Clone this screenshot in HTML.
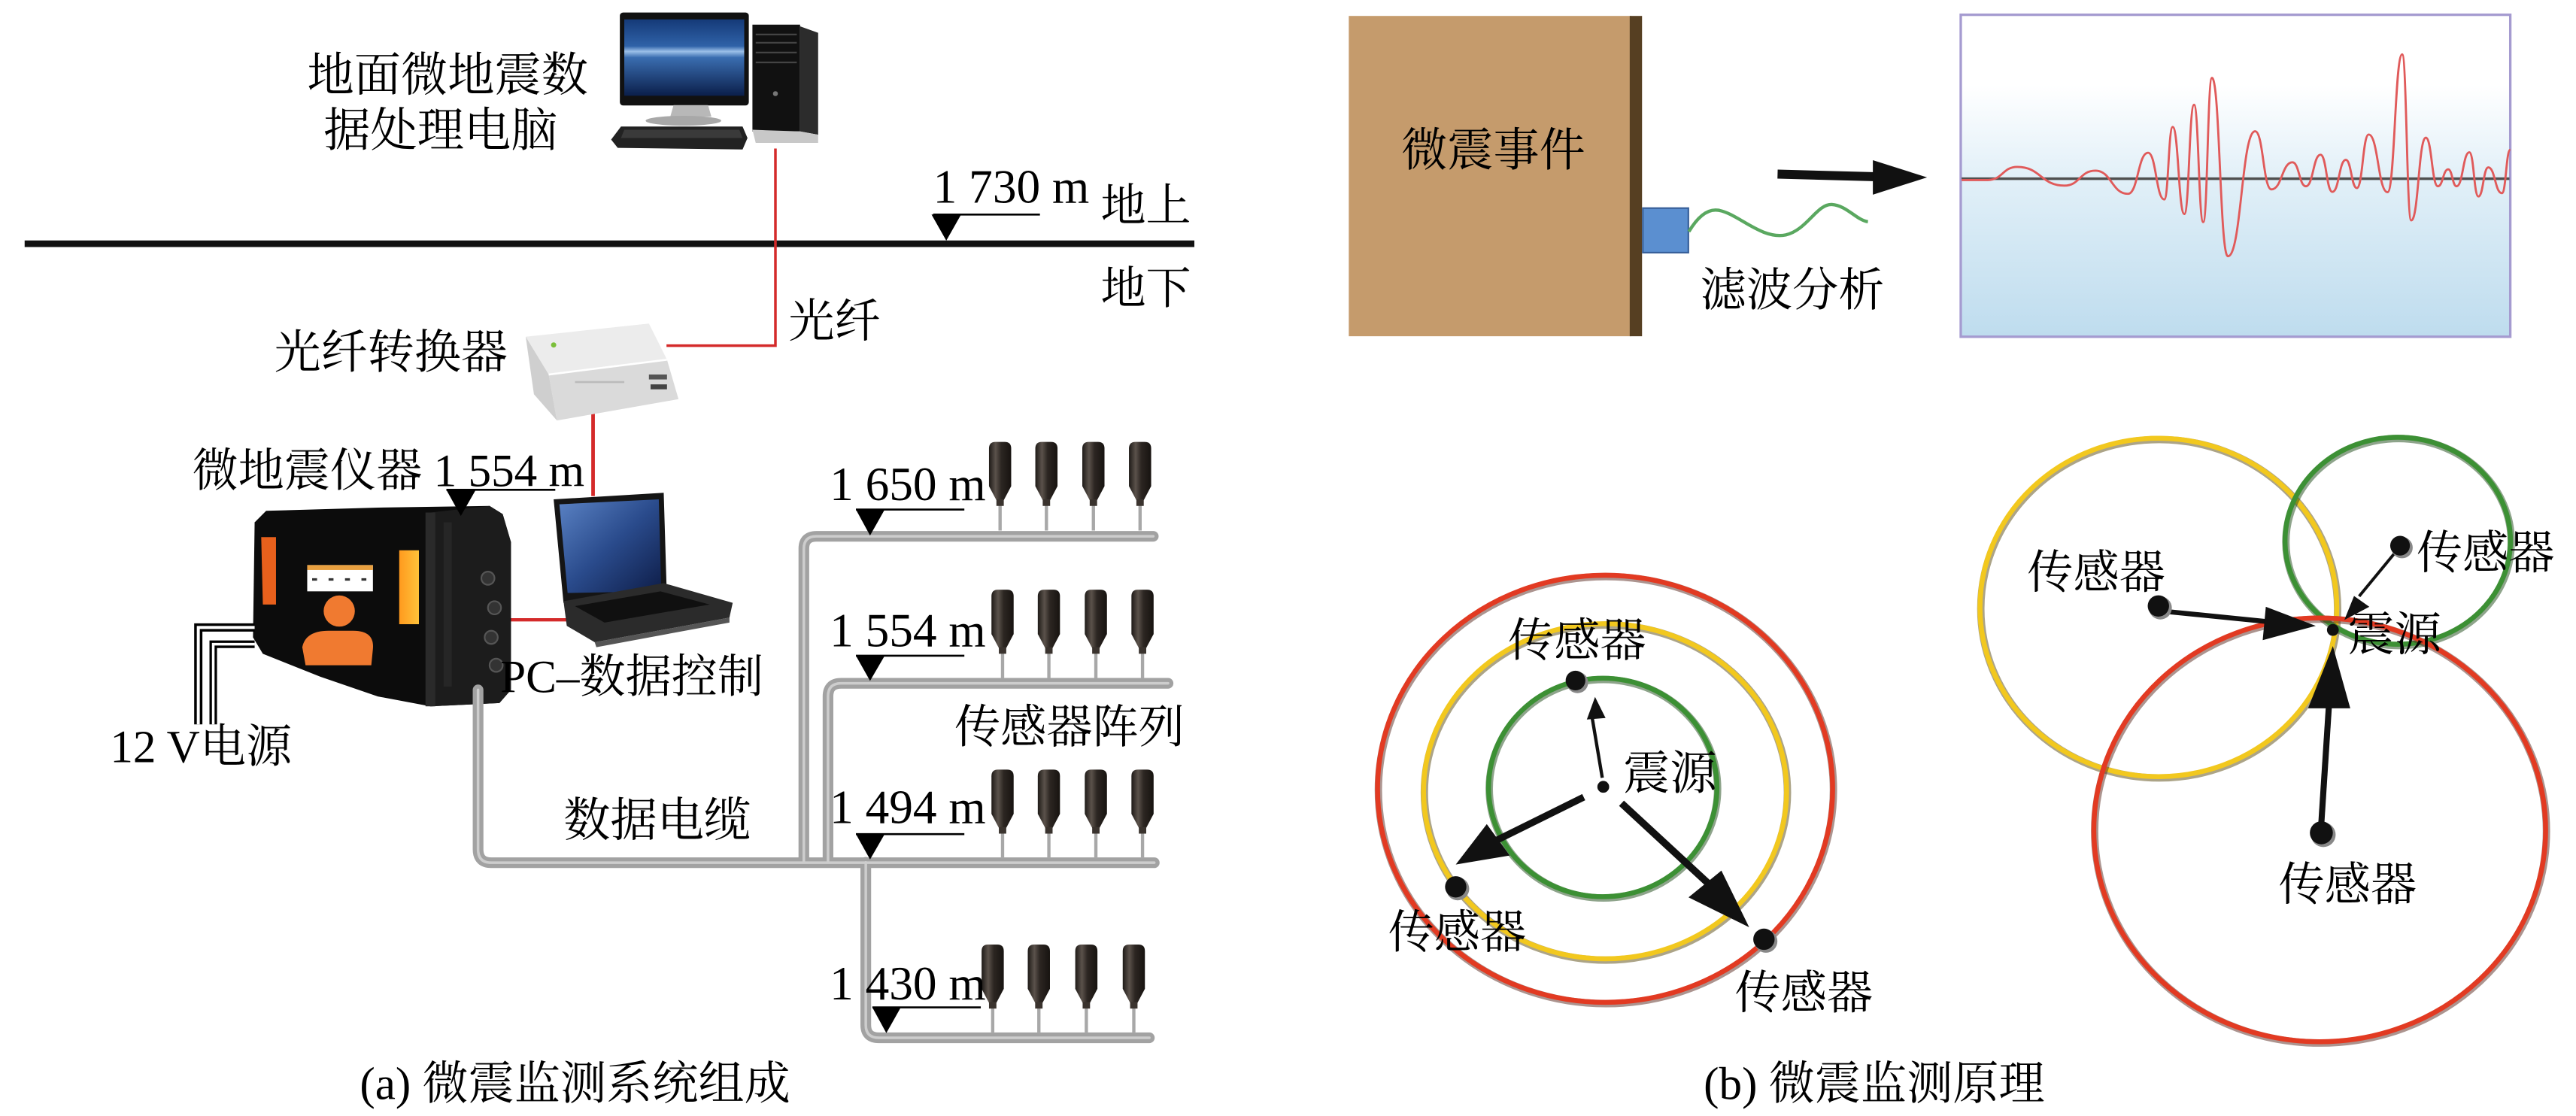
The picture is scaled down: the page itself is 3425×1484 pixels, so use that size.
<!DOCTYPE html>
<html>
<head>
<meta charset="utf-8">
<style>
html,body{margin:0;padding:0;background:#fff;overflow:hidden;}
svg{display:block;}
text{font-family:"Liberation Serif","Noto Serif CJK SC","Noto Sans CJK SC",serif;fill:#000;}
</style>
</head>
<body>
<svg xmlns="http://www.w3.org/2000/svg" width="3425" height="1484" viewBox="0 0 1568 679.4" preserveAspectRatio="none">
<defs>
  <linearGradient id="panelG" x1="0" y1="0" x2="0" y2="1">
    <stop offset="0" stop-color="#ffffff"/>
    <stop offset="0.22" stop-color="#ffffff"/>
    <stop offset="0.5" stop-color="#e2f0f8"/>
    <stop offset="1" stop-color="#bedcee"/>
  </linearGradient>
  <linearGradient id="monG" x1="0" y1="0" x2="0" y2="1">
    <stop offset="0" stop-color="#153a78"/>
    <stop offset="0.35" stop-color="#2f62a8"/>
    <stop offset="0.42" stop-color="#9cc0e8"/>
    <stop offset="0.5" stop-color="#3a6db0"/>
    <stop offset="1" stop-color="#0b1f4a"/>
  </linearGradient>
  <linearGradient id="lapG" x1="0" y1="0" x2="1" y2="1">
    <stop offset="0" stop-color="#5a82c4"/>
    <stop offset="0.5" stop-color="#2a4b8c"/>
    <stop offset="1" stop-color="#0e1d48"/>
  </linearGradient>
  <linearGradient id="sensG" x1="0" y1="0" x2="1" y2="0">
    <stop offset="0" stop-color="#1e1a17"/>
    <stop offset="0.3" stop-color="#5b524b"/>
    <stop offset="0.55" stop-color="#2c2622"/>
    <stop offset="1" stop-color="#171310"/>
  </linearGradient>
  <linearGradient id="yelG" x1="0" y1="0" x2="1" y2="0">
    <stop offset="0" stop-color="#ff9a1e"/>
    <stop offset="1" stop-color="#ffc23a"/>
  </linearGradient>
  <g id="sensor">
    <line x1="7.25" y1="38" x2="7.25" y2="54" stroke="#a8a8a8" stroke-width="2"/>
    <path d="M0.5,4 Q0.5,0 4.5,0 H10 Q14,0 14,4 V27 L9.5,35.5 H5 L0.5,27 Z" fill="url(#sensG)"/>
    <rect x="5" y="35" width="4.5" height="4" fill="#3a332e"/>
  </g>
</defs>

<!-- ================= PANEL (a) ================= -->
<!-- ground line -->
<line x1="15" y1="148.4" x2="727" y2="148.4" stroke="#111" stroke-width="4"/>

<!-- computer -->
<rect x="377.3" y="7.6" width="78.5" height="56.6" rx="2" fill="#111"/>
<rect x="380" y="11.8" width="73" height="46.5" fill="url(#monG)"/>
<polygon points="410,64 431,64 433,71 408,71" fill="#b8b8b8"/>
<ellipse cx="416" cy="73.5" rx="23" ry="3" fill="#a8a8a8"/>
<polygon points="378,77 452,77 455,84 452,91 376,90 372,85" fill="#222"/>
<polygon points="380,79 450,79 452,84 378,84" fill="#3a3a3a"/>
<rect x="458" y="15" width="29" height="65" fill="#111"/>
<polygon points="487,16 498,20 498,82 487,80" fill="#2c2c2c"/>
<polygon points="458,79 487,80 498,82 498,87 460,87" fill="#c8c8c8"/>
<line x1="460" y1="21" x2="485" y2="21" stroke="#444" stroke-width="1"/>
<line x1="460" y1="26" x2="485" y2="26" stroke="#444" stroke-width="1"/>
<line x1="460" y1="32" x2="485" y2="32" stroke="#444" stroke-width="1"/>
<line x1="460" y1="38" x2="485" y2="38" stroke="#444" stroke-width="1"/>
<circle cx="472" cy="57" r="1.5" fill="#777"/>

<!-- fiber (red) -->
<polyline points="472,90.4 472,210.4 405.7,210.4" fill="none" stroke="#d42a2a" stroke-width="1.6"/>
<line x1="361" y1="249" x2="361" y2="302" stroke="#d42a2a" stroke-width="2.2"/>
<line x1="310" y1="377.3" x2="354" y2="377.3" stroke="#d42a2a" stroke-width="2"/>

<!-- converter -->
<polygon points="320,205 395,197 406,219 334,228" fill="#ececec"/>
<polygon points="334,228 406,219 413,243 339,256" fill="#dadada"/>
<polygon points="320,205 334,228 339,256 325,240" fill="#cfcfcf"/>
<line x1="334" y1="228" x2="406" y2="219" stroke="#fff" stroke-width="1.2"/>
<circle cx="337" cy="210" r="1.6" fill="#7bbf3a"/>
<rect x="395" y="228" width="11" height="3" fill="#555"/>
<rect x="396" y="234" width="10" height="3" fill="#444"/>
<rect x="350" y="232" width="30" height="1.2" fill="#bbb"/>

<!-- instrument -->
<polygon points="155,318 162,311 230,309 298,308 306,313 311,330 311,420 304,428 262,430 230,424 195,412 160,398 154,388" fill="#0c0c0c"/>
<polygon points="262,312 298,308 306,313 311,330 311,420 304,428 262,430" fill="#1c1c1c"/>
<rect x="259" y="312" width="6" height="118" fill="#2a2a2a"/>
<rect x="270" y="318" width="5" height="100" fill="#262626"/>
<circle cx="297" cy="352" r="4" fill="#333" stroke="#555" stroke-width="1"/>
<circle cx="301" cy="370" r="4" fill="#333" stroke="#555" stroke-width="1"/>
<circle cx="299" cy="388" r="4" fill="#333" stroke="#555" stroke-width="1"/>
<circle cx="302" cy="405" r="4" fill="#333" stroke="#555" stroke-width="1"/>
<polygon points="159,327 168,327 168,368 160,368" fill="#e8601c"/>
<rect x="243" y="335" width="12" height="45" fill="url(#yelG)"/>
<rect x="187" y="344" width="40" height="16" fill="#fff"/>
<rect x="190" y="352" width="3" height="1.5" fill="#333"/>
<rect x="200" y="352" width="3" height="1.5" fill="#333"/>
<rect x="210" y="352" width="3" height="1.5" fill="#333"/>
<rect x="220" y="352" width="3" height="1.5" fill="#333"/>
<rect x="187" y="344" width="40" height="3" fill="#e9a040"/>
<circle cx="206.5" cy="372" r="9.5" fill="#f07a30"/>
<path d="M184,394 Q186,384 200,384 H215 Q228,384 227,395 L226,405 H186 Z" fill="#f07a30"/>

<!-- power cables -->
<path d="M155,382 H120.7 V441" fill="none" stroke="#000" stroke-width="5"/>
<path d="M155,382 H120.7 V441" fill="none" stroke="#fff" stroke-width="1.8"/>
<path d="M155,392.2 H129.8 V441" fill="none" stroke="#000" stroke-width="4.6"/>
<path d="M155,392.2 H129.8 V441" fill="none" stroke="#fff" stroke-width="1.6"/>

<!-- laptop -->
<polygon points="337,304 404,300 406,366 343,367" fill="#151515"/>
<polygon points="340.5,307 401,304 402.5,360 345.5,361" fill="url(#lapG)"/>
<polygon points="343,366 404,355 446,367 444,376 362,391 345,381" fill="#2b2b2b"/>
<polygon points="350,369 402,360 432,368 368,379" fill="#101010"/>
<polygon points="362,391 444,376 444,379 363,394" fill="#555"/>

<!-- pipes -->
<g fill="none" stroke-linecap="round" stroke-linejoin="round">
  <path d="M291,420 V517 Q291,525.2 299,525.2 H702.6" stroke="#a2a2a2" stroke-width="6.5"/>
  <path d="M702,326.5 H497 Q489.3,326.5 489.3,334 V525" stroke="#a2a2a2" stroke-width="6.5"/>
  <path d="M711,416 H512 Q504,416 504,424 V525" stroke="#a2a2a2" stroke-width="6.5"/>
  <path d="M527,525 V624 Q527,631.8 535,631.8 H699.6" stroke="#a2a2a2" stroke-width="6.5"/>
  <path d="M291,420 V517 Q291,525.2 299,525.2 H702.6" stroke="#cdcdcd" stroke-width="1.6"/>
  <path d="M702,326.5 H497 Q489.3,326.5 489.3,334 V525" stroke="#cdcdcd" stroke-width="1.6"/>
  <path d="M711,416 H512 Q504,416 504,424 V525" stroke="#cdcdcd" stroke-width="1.6"/>
  <path d="M527,525 V624 Q527,631.8 535,631.8 H699.6" stroke="#cdcdcd" stroke-width="1.6"/>
</g>

<!-- sensors -->
<use href="#sensor" x="601.5" y="269"/>
<use href="#sensor" x="629.7" y="269"/>
<use href="#sensor" x="658.3" y="269"/>
<use href="#sensor" x="686.7" y="269"/>
<use href="#sensor" x="603" y="359"/>
<use href="#sensor" x="631.2" y="359"/>
<use href="#sensor" x="659.8" y="359"/>
<use href="#sensor" x="688.2" y="359"/>
<use href="#sensor" x="603" y="468.5"/>
<use href="#sensor" x="631.2" y="468.5"/>
<use href="#sensor" x="659.8" y="468.5"/>
<use href="#sensor" x="688.2" y="468.5"/>
<use href="#sensor" x="597" y="575"/>
<use href="#sensor" x="625.1" y="575"/>
<use href="#sensor" x="654" y="575"/>
<use href="#sensor" x="682.9" y="575"/>

<!-- depth markers -->
<g stroke="#000" stroke-width="1.2">
  <line x1="568" y1="130.6" x2="633" y2="130.6"/>
  <line x1="271.7" y1="298.2" x2="338" y2="298.2"/>
  <line x1="521" y1="310.2" x2="587" y2="310.2"/>
  <line x1="521" y1="399.2" x2="587" y2="399.2"/>
  <line x1="521" y1="507.8" x2="587" y2="507.8"/>
  <line x1="531" y1="613.3" x2="597" y2="613.3"/>
</g>
<g fill="#000">
  <polygon points="567,130.6 585,130.6 576,146.5"/>
  <polygon points="271.7,298.2 289.6,298.2 280.5,314.1"/>
  <polygon points="521,310.2 538.5,310.2 529.6,326"/>
  <polygon points="521,399.2 538.5,399.2 529.6,414.5"/>
  <polygon points="521,507.8 538.5,507.8 529.6,523.2"/>
  <polygon points="531,613.3 548.3,613.3 539.5,628.9"/>
</g>

<!-- panel (a) text -->
<text x="187" y="55.5" font-size="28.5">地面微地震数</text>
<text x="197" y="89" font-size="28.5">据处理电脑</text>
<text x="568" y="123.5" font-size="29">1 730 m</text>
<text x="670" y="134.5" font-size="27.5">地上</text>
<text x="670" y="185" font-size="27.5">地下</text>
<text x="480" y="205" font-size="28">光纤</text>
<text x="167" y="224" font-size="28.4">光纤转换器</text>
<text x="117" y="296" font-size="28">微地震仪器 1 554 m</text>
<text x="505" y="304.5" font-size="29">1 650 m</text>
<text x="505" y="393.5" font-size="29">1 554 m</text>
<text x="505" y="501" font-size="29">1 494 m</text>
<text x="505" y="608.4" font-size="29">1 430 m</text>
<text x="67" y="464" font-size="28">12 V电源</text>
<text x="304.5" y="421.5" font-size="28">PC–数据控制</text>
<text x="343" y="509" font-size="28.5">数据电缆</text>
<text x="581" y="452" font-size="28">传感器阵列</text>
<text x="219" y="669" font-size="28">(a) 微震监测系统组成</text>

<!-- ================= PANEL (b) top ================= -->
<rect x="821" y="9.7" width="172" height="195" fill="#c59b6c"/>
<rect x="992" y="9.7" width="7.5" height="195" fill="#563f22"/>
<rect x="1000" y="126.7" width="27.7" height="27.1" fill="#5b8fd0" stroke="#38609a" stroke-width="1"/>
<path d="M1028,141 C1034,131 1040,127 1046,128 C1058,130 1072,146 1087,143 C1100,140 1106,124 1115,124.5 C1124,125 1130,134 1137,135" fill="none" stroke="#5aa860" stroke-width="2"/>
<line x1="1082" y1="106" x2="1142" y2="107.6" stroke="#111" stroke-width="5.5"/>
<polygon points="1140,97.5 1173,108 1140,118.5" fill="#111"/>

<rect x="1193.5" y="9" width="334.5" height="196" fill="url(#panelG)" stroke="#a59bd0" stroke-width="1.5"/>
<line x1="1194" y1="108.8" x2="1527.5" y2="108.8" stroke="#505050" stroke-width="1.6"/>
<path d="M1194,109.6 L1210,109.6 C1218.95,109.6 1218.95,101.6 1227.9,101.6 C1242.25,101.6 1242.25,113 1256.6,113 C1266,113 1266,103.9 1275.4,103.9 C1285.35,103.9 1285.35,118 1295.3,118 C1301.4,118 1301.4,93 1307.5,93 C1312.45,93 1312.45,121.4 1317.4,121.4 C1319.95,121.4 1319.95,77.3 1322.5,77.3 C1326.05,77.3 1326.05,130.3 1329.6,130.3 C1332.55,130.3 1332.55,63.8 1335.5,63.8 C1338.3,63.8 1338.3,135.2 1341.1,135.2 C1343.75,135.2 1343.75,47.4 1346.4,47.4 C1351.25,47.4 1351.25,156 1356.1,156 C1364.4,156 1364.4,79.9 1372.7,79.9 C1377.65,79.9 1377.65,115.3 1382.6,115.3 C1389,115.3 1389,98.8 1395.4,98.8 C1399.5,98.8 1399.5,113.4 1403.6,113.4 C1408.05,113.4 1408.05,94.2 1412.5,94.2 C1416.1,94.2 1416.1,116.8 1419.7,116.8 C1423.8,116.8 1423.8,97.3 1427.9,97.3 C1431.25,97.3 1431.25,114.5 1434.6,114.5 C1438.2,114.5 1438.2,81.9 1441.8,81.9 C1447.55,81.9 1447.55,117 1453.3,117 C1457.75,117 1457.75,33.1 1462.2,33.1 C1464.95,33.1 1464.95,134.2 1467.7,134.2 C1472.15,134.2 1472.15,83.8 1476.6,83.8 C1480.25,83.8 1480.25,113.4 1483.9,113.4 C1487.05,113.4 1487.05,103.1 1490.2,103.1 C1492.75,103.1 1492.75,113.4 1495.3,113.4 C1499.2,113.4 1499.2,92.7 1503.1,92.7 C1505.85,92.7 1505.85,119.6 1508.6,119.6 C1511.6,119.6 1511.6,101.9 1514.6,101.9 C1518.75,101.9 1518.75,117.6 1522.9,117.6 C1525.45,117.6 1525.45,91.2 1528,91.2" fill="none" stroke="#e05a5a" stroke-width="1.3"/>

<text x="853" y="101" font-size="28">微震事件</text>
<text x="1035" y="186" font-size="28">滤波分析</text>

<!-- ================= PANEL (b) left circles ================= -->
<g fill="none">
  <ellipse cx="977.5" cy="481" rx="138.5" ry="130" stroke="#5a2a20" stroke-opacity="0.5" stroke-width="4.5"/>
  <ellipse cx="977" cy="480.2" rx="138.5" ry="130" stroke="#e23a22" stroke-width="3"/>
  <ellipse cx="977.5" cy="482.5" rx="110.5" ry="102" stroke="#5a4a10" stroke-opacity="0.5" stroke-width="4.5"/>
  <ellipse cx="977" cy="481.7" rx="110.5" ry="102" stroke="#f2c81e" stroke-width="3"/>
  <ellipse cx="976" cy="480.2" rx="69.5" ry="66.5" stroke="#1e4a18" stroke-opacity="0.5" stroke-width="4.5"/>
  <ellipse cx="975.6" cy="479.4" rx="69.5" ry="66.5" stroke="#3c9034" stroke-width="3"/>
</g>
<line x1="975.3" y1="473.5" x2="969" y2="436" stroke="#111" stroke-width="2"/>
<polygon points="970.9,424.3 965.9,438 977.3,437.1" fill="#111"/>
<line x1="964" y1="485.3" x2="910" y2="512" stroke="#111" stroke-width="4.2"/>
<polygon points="886.1,526.3 905,501.7 919,520.8" fill="#111"/>
<line x1="987" y1="489" x2="1040" y2="538" stroke="#111" stroke-width="4.4"/>
<polygon points="1064.7,564.5 1027.8,546.3 1047.8,530" fill="#111"/>
<g>
  <circle cx="960.2" cy="415.5" r="6.5" fill="#888"/>
  <circle cx="959" cy="414.3" r="6" fill="#111"/>
  <circle cx="887.3" cy="541.1" r="7" fill="#888"/>
  <circle cx="886.1" cy="539.9" r="6.5" fill="#111"/>
  <circle cx="1074.9" cy="573" r="7" fill="#888"/>
  <circle cx="1073.7" cy="571.8" r="6.5" fill="#111"/>
  <circle cx="975.9" cy="479" r="3.6" fill="#111"/>
</g>
<text x="918" y="399.5" font-size="28">传感器</text>
<text x="988" y="480.5" font-size="28.5">震源</text>
<text x="845" y="577" font-size="28">传感器</text>
<text x="1056" y="614" font-size="28">传感器</text>

<!-- ================= PANEL (b) right circles ================= -->
<g fill="none">
  <ellipse cx="1314.3" cy="370.6" rx="108.6" ry="103" stroke="#5a4a10" stroke-opacity="0.5" stroke-width="4.5"/>
  <ellipse cx="1313.8" cy="369.8" rx="108.6" ry="103" stroke="#f2c81e" stroke-width="3"/>
  <ellipse cx="1460" cy="330" rx="68.6" ry="63" stroke="#1e4a18" stroke-opacity="0.5" stroke-width="4.5"/>
  <ellipse cx="1459.5" cy="329.2" rx="68.6" ry="63" stroke="#3c9034" stroke-width="3"/>
  <ellipse cx="1412.5" cy="506" rx="137.5" ry="129" stroke="#5a2a20" stroke-opacity="0.5" stroke-width="4.5"/>
  <ellipse cx="1412" cy="505.2" rx="137.5" ry="129" stroke="#e23a22" stroke-width="3"/>
</g>
<line x1="1320.8" y1="372.5" x2="1382" y2="378.6" stroke="#111" stroke-width="3"/>
<polygon points="1409.6,381 1379.2,369.4 1377.3,389.7" fill="#111"/>
<line x1="1457.4" y1="337" x2="1436" y2="363" stroke="#111" stroke-width="1.8"/>
<polygon points="1427,377.4 1432.9,362.8 1442.2,369.4" fill="#111"/>
<line x1="1413" y1="500.9" x2="1417.7" y2="428" stroke="#111" stroke-width="3.7"/>
<polygon points="1420,393.3 1404.9,431.2 1430.6,431.2" fill="#111"/>
<g>
  <circle cx="1315" cy="370.1" r="7" fill="#888"/>
  <circle cx="1313.8" cy="368.9" r="6.5" fill="#111"/>
  <circle cx="1462.1" cy="333.4" r="6.5" fill="#888"/>
  <circle cx="1460.9" cy="332.2" r="6" fill="#111"/>
  <circle cx="1414.2" cy="508.2" r="7.5" fill="#888"/>
  <circle cx="1413" cy="507" r="7" fill="#111"/>
  <circle cx="1420" cy="383.5" r="3.6" fill="#111"/>
</g>
<text x="1234" y="358" font-size="28">传感器</text>
<text x="1471" y="346" font-size="28">传感器</text>
<text x="1429" y="396" font-size="28.5">震源</text>
<text x="1387" y="548" font-size="28">传感器</text>

<text x="1037" y="669" font-size="28">(b) 微震监测原理</text>
</svg>
</body>
</html>
